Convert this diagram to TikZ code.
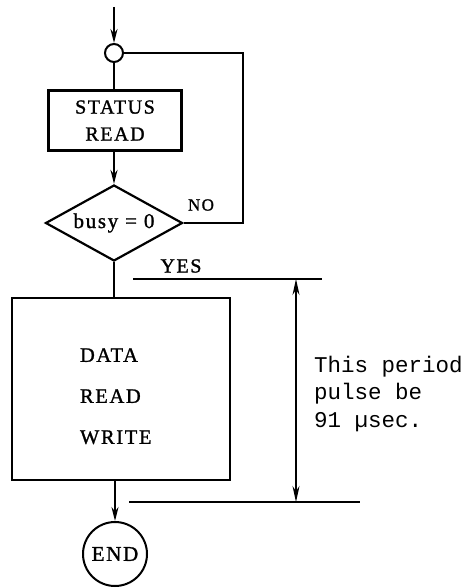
\documentclass[tikz,border=0pt]{standalone}
\usepackage{fontspec}
\setmainfont{Liberation Serif}[LetterSpace=8, FakeBold=1.2]
\newfontfamily\macchina{Liberation Mono}
\usetikzlibrary{shapes.geometric,arrows.meta}

\begin{document}
\begin{tikzpicture}[x=1pt,y=-1pt]
    % Definizione stili
    \tikzset{blocco/.style={draw, line width=2.2pt, inner sep=0pt, font=\fontsize{20}{27}\selectfont}}
    \tikzstyle{decisione}=[draw, diamond, aspect=1.8, line width=2.2pt, inner sep=0pt, minimum width=137pt, minimum height=76pt, font=\fontsize{21}{24}\selectfont]
    \tikzstyle{nodo}=[draw, circle, line width=2pt, inner sep=0pt, font=\fontsize{21}{24}\selectfont]
    \tikzstyle{flusso}=[-{Stealth[length=14pt,width=7pt]}, line width=1.8pt]
    \tikzstyle{linea}=[line width=1.8pt]
    \tikzstyle{quota}=[line width=1.4pt]
    \tikzstyle{etichetta}=[font=\fontsize{20}{22}\selectfont, inner sep=0pt]

    \useasboundingbox (0,0) rectangle (467,588);

    % Flusso principale
    \coordinate (inizio) at (114,7);
    \node[nodo, minimum size=18pt] (giunzione) at (114,53) {};
    \node[blocco, minimum width=133pt, minimum height=60pt, align=center] (status) at (115,120.5) {STATUS\\READ};
    \node[decisione] (busy) at (114,223) {busy = 0};
    \node[blocco, minimum width=218pt, minimum height=182pt, text width=82pt, align=left, font=\fontsize{20.5}{41}\selectfont] (dati) at (121,389) {\rule{0pt}{28pt}DATA\\READ\\WRITE};
    \node[nodo, minimum size=64pt] (fine) at (115,554) {END};

    \draw[flusso] (inizio) -- (giunzione);
    \draw[linea] (giunzione) -- (giunzione |- status.north);
    \draw[flusso] (giunzione |- status.south) -- (busy.north);
    \draw[linea] (busy.south) -- (busy.south |- dati.north);
    \draw[flusso] (fine |- dati.south) -- (fine);

    % Ritorno (NO) e uscita (YES)
    \coordinate (ritorno) at (243,53);
    \draw[linea] (busy.east) -| (ritorno) -- (giunzione.east);
    \node[etichetta, font=\fontsize{17}{20}\selectfont] (no) at (201,205) {NO};
    \node[etichetta] (yes) at (181,266) {YES};

    % Quota del periodo
    \coordinate (sopraA) at (133,279);
    \coordinate (sopraB) at (322,279);
    \coordinate (sottoA) at (129,502);
    \coordinate (sottoB) at (360,502);
    \coordinate (quotaT) at (296,279);
    \coordinate (quotaB) at (296,502);
    \draw[quota] (sopraA) -- (sopraB);
    \draw[quota] (sottoA) -- (sottoB);
    \draw[quota, {Stealth[length=16pt,width=7pt]}-{Stealth[length=16pt,width=7pt]}] (quotaT) -- (quotaB);

    % Nota
    \node[anchor=west, align=left, inner sep=0pt, font=\macchina\fontsize{22.5}{27.5}\selectfont] (nota) at (314,394) {This period\\pulse be\\91 µsec.};
\end{tikzpicture}
\end{document}
